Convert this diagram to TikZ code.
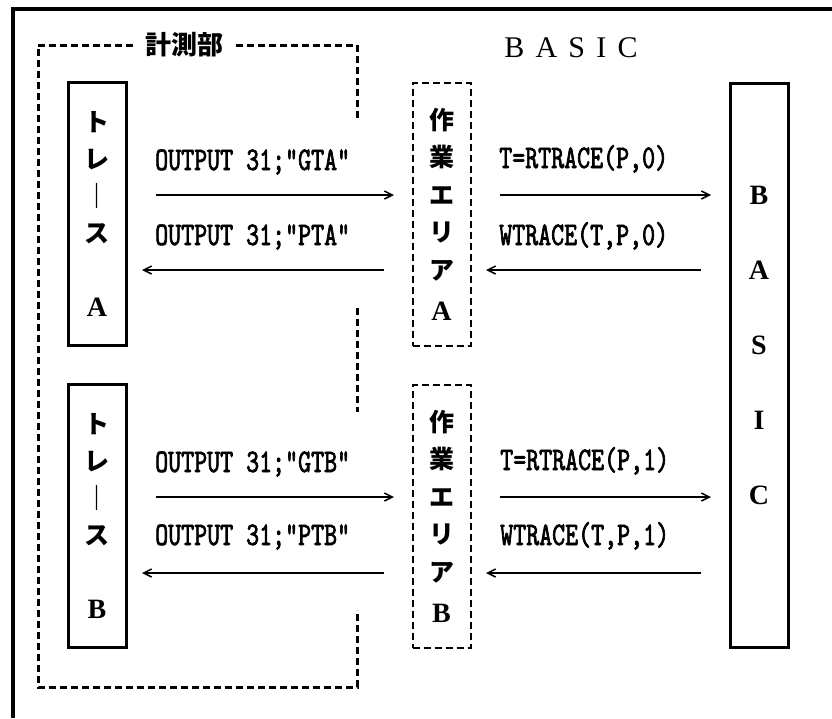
\documentclass[tikz,border=0pt]{standalone}
\usepackage{fontspec}
\usepackage{tikz}
\usetikzlibrary{positioning, arrows.meta}
\newfontfamily\cjk{Noto Sans CJK JP}
\newfontfamily\letra{Liberation Serif}
\newfontfamily\titulo{Liberation Serif}[WordSpace=1.5]
\newfontfamily\codigo{lmmono10-regular.otf}[FakeStretch=0.75, FakeBold=2]

\begin{document}
\begin{tikzpicture}[
    x=1pt, y=-1pt,
    >={Straight Barb[length=8pt, width=8pt]},
    caixa/.style={draw, line width=3pt, minimum width=58pt, minimum height=263pt,
                  inner sep=0pt, align=center,
                  font=\cjk\bfseries\fontsize{25}{37}\selectfont},
    area/.style={caixa, line width=2pt, dash pattern=on 7pt off 4pt,
                 font=\cjk\bfseries\fontsize{25}{37.6}\selectfont},
    moldura/.style={line width=3pt, dash pattern=on 7pt off 4pt},
    seta/.style={->, line width=1.5pt},
    ida/.style={seta, shorten <=28pt, shorten >=17.5pt},
    volta/.style={seta, shorten <=27.5pt, shorten >=14.5pt},
    rotulo/.style={anchor=base west, inner sep=0pt,
                   font=\codigo\fontsize{33}{33}\selectfont}
  ]
    \useasboundingbox (0,0) rectangle (832,718);

    % --- Moldura externa ---
    \draw[line width=4pt] (13,718) -- (13,9) -- (832,9);

    % --- Caixas de traco ---
    \node[caixa] (traceA) at (97,214)
      {ト\\レ\\｜\\ス\\[37pt]{\letra\bfseries\fontsize{28}{37}\selectfont A}};
    \node[caixa, below=36pt of traceA] (traceB)
      {ト\\レ\\｜\\ス\\[37pt]{\letra\bfseries\fontsize{28}{37}\selectfont B}};

    % --- Areas de trabalho ---
    \node[area, right=284pt of traceA] (workA)
      {作\\業\\エ\\リ\\ア\\[3pt]{\letra\bfseries\fontsize{28}{37}\selectfont A}};
    \node[area, right=284pt of traceB] (workB)
      {作\\業\\エ\\リ\\ア\\[3pt]{\letra\bfseries\fontsize{28}{37}\selectfont B}};

    % --- Caixa do BASIC ---
    \node[caixa, minimum height=564pt, text depth=40pt,
          font=\letra\bfseries\fontsize{28}{75}\selectfont] (basic) at (759,365)
      {B\\A\\S\\I\\C};
    \node[font=\titulo\fontsize{30}{30}\selectfont, anchor=base] (tbasic)
      at (571,57) {B A S I C};

    % --- Moldura do bloco de medida ---
    \draw[moldura] (357,118) -- (357,45) -- (38,45) -- (38,687) -- (357,687) -- (357,610);
    \draw[moldura] (357,308) -- (357,412);
    \node[fill=white, inner xsep=9pt, inner ysep=2pt,
          font=\cjk\bfseries\fontsize{26}{26}\selectfont] (tmedida) at (184,45) {計測部};

    % --- Linhas das setas ---
    \coordinate (linhaGA) at (0,195);
    \coordinate (linhaPA) at (0,270);
    \coordinate (linhaGB) at (0,497);
    \coordinate (linhaPB) at (0,573);

    % --- Setas e rotulos: traco A ---
    \draw[ida]   (traceA.east |- linhaGA) -- (workA.west |- linhaGA);
    \draw[volta] (workA.west |- linhaPA) -- (traceA.east |- linhaPA);
    \node[rotulo] (rGA) at (155,170) {OUTPUT 31;"GTA"};
    \node[rotulo] (rPA) at (155,245) {OUTPUT 31;"PTA"};

    % --- Setas e rotulos: traco B ---
    \draw[ida]   (traceB.east |- linhaGB) -- (workB.west |- linhaGB);
    \draw[volta] (workB.west |- linhaPB) -- (traceB.east |- linhaPB);
    \node[rotulo] (rGB) at (155,472) {OUTPUT 31;"GTB"};
    \node[rotulo] (rPB) at (155,545) {OUTPUT 31;"PTB"};

    % --- Setas e rotulos: BASIC ---
    \draw[ida]   (workA.east |- linhaGA) -- (basic.west |- linhaGA);
    \draw[volta] (basic.west |- linhaPA) -- (workA.east |- linhaPA);
    \draw[ida]   (workB.east |- linhaGB) -- (basic.west |- linhaGB);
    \draw[volta] (basic.west |- linhaPB) -- (workB.east |- linhaPB);
    \node[rotulo] (rRA) at (499,168) {T=RTRACE(P,0)};
    \node[rotulo] (rWA) at (499,245) {WTRACE(T,P,0)};
    \node[rotulo] (rRB) at (500,470) {T=RTRACE(P,1)};
    \node[rotulo] (rWB) at (500,545) {WTRACE(T,P,1)};

  \end{tikzpicture}
\end{document}
